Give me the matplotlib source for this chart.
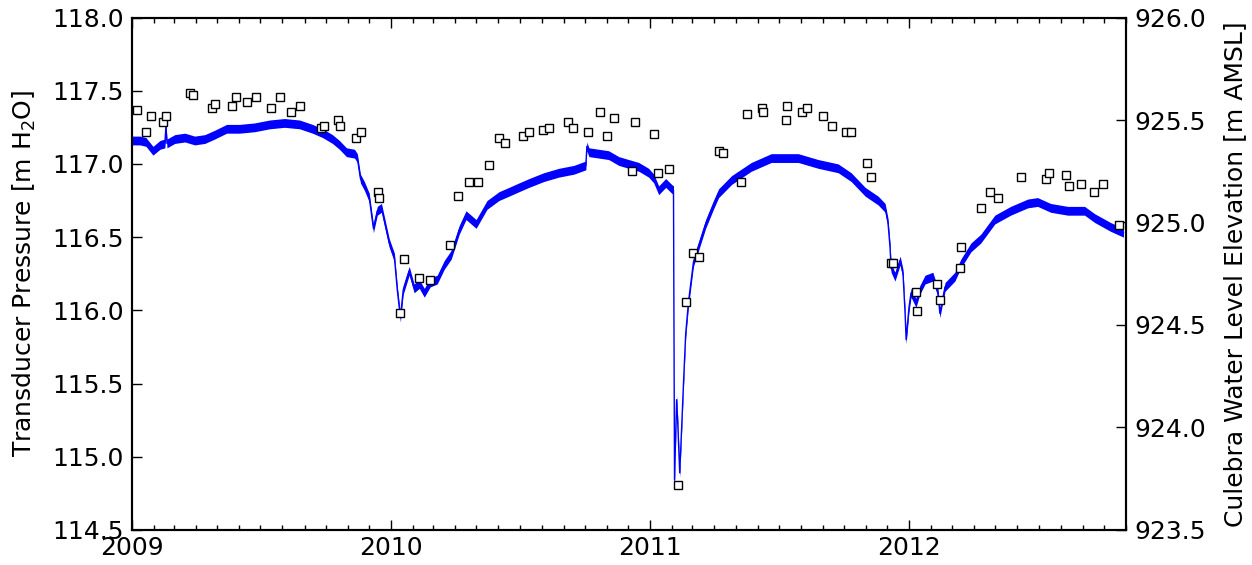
import numpy as np
import matplotlib
matplotlib.use("Agg")
import matplotlib.pyplot as plt
import matplotlib.dates as mdates
from matplotlib.ticker import FormatStrFormatter, MultipleLocator

# transducer record (decimal year, m H2O)
p_year = [2009.000, 2009.031, 2009.054, 2009.081, 2009.108, 2009.127, 2009.131, 2009.135,
          2009.165, 2009.204, 2009.242, 2009.281, 2009.319, 2009.365, 2009.415, 2009.473,
          2009.531, 2009.588, 2009.646, 2009.696, 2009.735, 2009.773, 2009.800, 2009.827,
          2009.858, 2009.869, 2009.881, 2009.896, 2009.915, 2009.931, 2009.946, 2009.962,
          2009.977, 2009.992, 2010.012, 2010.023, 2010.035, 2010.046, 2010.069, 2010.088,
          2010.108, 2010.127, 2010.150, 2010.177, 2010.204, 2010.231, 2010.262, 2010.288,
          2010.327, 2010.369, 2010.415, 2010.454, 2010.492, 2010.531, 2010.588, 2010.646,
          2010.704, 2010.750, 2010.754, 2010.762, 2010.800, 2010.838, 2010.877, 2010.915,
          2010.954, 2010.992, 2011.012, 2011.031, 2011.058, 2011.081, 2011.088, 2011.092,
          2011.100, 2011.104, 2011.112, 2011.119, 2011.127, 2011.135, 2011.146, 2011.165,
          2011.185, 2011.212, 2011.242, 2011.262, 2011.312, 2011.388, 2011.465, 2011.569,
          2011.646, 2011.723, 2011.773, 2011.827, 2011.877, 2011.904, 2011.915, 2011.923,
          2011.927, 2011.942, 2011.962, 2011.973, 2011.981, 2011.985, 2011.996, 2012.004,
          2012.023, 2012.038, 2012.058, 2012.088, 2012.108, 2012.115, 2012.135, 2012.173,
          2012.196, 2012.235, 2012.273, 2012.327, 2012.388, 2012.454, 2012.492, 2012.542,
          2012.608, 2012.673, 2012.712, 2012.773, 2012.823]
p_val = [117.16, 117.16, 117.15, 117.09, 117.13, 117.14, 117.26, 117.14,
         117.17, 117.18, 117.16, 117.17, 117.20, 117.24, 117.24, 117.25,
         117.27, 117.28, 117.27, 117.24, 117.21, 117.17, 117.13, 117.08,
         117.07, 117.04, 116.90, 116.85, 116.77, 116.56, 116.68, 116.70,
         116.58, 116.46, 116.36, 116.14, 115.95, 116.14, 116.27, 116.15,
         116.18, 116.12, 116.19, 116.21, 116.31, 116.38, 116.55, 116.65,
         116.59, 116.72, 116.78, 116.81, 116.84, 116.87, 116.91, 116.94,
         116.96, 116.99, 117.12, 117.08, 117.07, 117.06, 117.02, 117.00,
         116.98, 116.94, 116.90, 116.82, 116.87, 116.83, 116.82, 114.84,
         115.39, 115.25, 114.89, 115.18, 115.52, 115.84, 116.06, 116.33,
         116.44, 116.59, 116.72, 116.80, 116.89, 116.98, 117.04, 117.04,
         117.00, 116.97, 116.91, 116.81, 116.75, 116.70, 116.60, 116.43,
         116.29, 116.23, 116.34, 116.25, 115.98, 115.80, 116.02, 116.12,
         116.05, 116.14, 116.21, 116.23, 116.12, 115.98, 116.16, 116.23,
         116.32, 116.43, 116.49, 116.62, 116.68, 116.73, 116.74, 116.70,
         116.68, 116.68, 116.63, 116.57, 116.53]
p_spread = 0.03  # half-width of the hourly scatter

# manual water-level measurements (decimal year, m AMSL)
w_year = [2009.019, 2009.054, 2009.073, 2009.119, 2009.131, 2009.223, 2009.235, 2009.308,
          2009.319, 2009.385, 2009.400, 2009.442, 2009.477, 2009.538, 2009.569, 2009.615,
          2009.646, 2009.727, 2009.742, 2009.796, 2009.804, 2009.862, 2009.885, 2009.950,
          2009.954, 2010.035, 2010.050, 2010.108, 2010.150, 2010.227, 2010.258, 2010.300,
          2010.335, 2010.377, 2010.415, 2010.438, 2010.508, 2010.531, 2010.585, 2010.608,
          2010.681, 2010.700, 2010.758, 2010.804, 2010.831, 2010.858, 2010.927, 2010.938,
          2011.012, 2011.027, 2011.069, 2011.104, 2011.138, 2011.165, 2011.185, 2011.262,
          2011.277, 2011.350, 2011.373, 2011.431, 2011.435, 2011.523, 2011.527, 2011.585,
          2011.604, 2011.665, 2011.700, 2011.754, 2011.773, 2011.835, 2011.850, 2011.927,
          2011.935, 2012.023, 2012.027, 2012.104, 2012.115, 2012.192, 2012.196, 2012.273,
          2012.308, 2012.338, 2012.427, 2012.523, 2012.535, 2012.600, 2012.612, 2012.658,
          2012.708, 2012.746, 2012.804]
w_val = [925.55, 925.44, 925.52, 925.49, 925.52, 925.63, 925.62, 925.56,
         925.58, 925.57, 925.61, 925.59, 925.61, 925.56, 925.61, 925.54,
         925.57, 925.46, 925.47, 925.50, 925.47, 925.41, 925.44, 925.15,
         925.12, 924.56, 924.82, 924.73, 924.72, 924.89, 925.13, 925.20,
         925.20, 925.28, 925.41, 925.39, 925.42, 925.44, 925.45, 925.46,
         925.49, 925.46, 925.44, 925.54, 925.42, 925.51, 925.25, 925.49,
         925.43, 925.24, 925.26, 923.72, 924.61, 924.85, 924.83, 925.35,
         925.34, 925.20, 925.53, 925.56, 925.54, 925.50, 925.57, 925.54,
         925.56, 925.52, 925.47, 925.44, 925.44, 925.29, 925.22, 924.80,
         924.80, 924.66, 924.57, 924.70, 924.62, 924.78, 924.88, 925.07,
         925.15, 925.12, 925.22, 925.21, 925.24, 925.23, 925.18, 925.19,
         925.15, 925.19, 924.99]


def to_dates(years):
    days = (np.asarray(years) - 2009.0) * 365.25
    return np.datetime64("2009-01-01T00:00") + (days * 1440).astype("timedelta64[m]")


p_dates = to_dates(p_year)
w_dates = to_dates(w_year)
p_val = np.array(p_val)

plt.rcParams["font.family"] = "DejaVu Sans"
plt.rcParams["font.size"] = 18

fig = plt.figure(figsize=(12.52, 5.65), dpi=100)
ax = fig.add_axes([0.1054, 0.062, 0.794, 0.907])
ax2 = ax.twinx()

ax.fill_between(p_dates, p_val - p_spread, p_val + p_spread, color="#0000ff", lw=0)
ax.plot(p_dates, p_val, color="#0000ff", lw=1.0)

ax2.plot(w_dates, w_val, ls="none", marker="s", ms=6, mfc="white", mec="black", mew=1.0)

ax.set_xlim(np.datetime64("2009-01-01"), np.datetime64("2012-11-01"))
ax.set_ylim(114.5, 118.0)
ax2.set_ylim(923.5, 926.0)

ax.xaxis.set_major_locator(mdates.YearLocator())
ax.xaxis.set_major_formatter(mdates.DateFormatter("%Y"))
ax.xaxis.set_minor_locator(mdates.MonthLocator())
ax.yaxis.set_major_locator(MultipleLocator(0.5))
ax2.yaxis.set_major_locator(MultipleLocator(0.5))
ax.yaxis.set_major_formatter(FormatStrFormatter("%.1f"))
ax2.yaxis.set_major_formatter(FormatStrFormatter("%.1f"))

ax.tick_params(axis="x", which="major", direction="in", top=True, length=7, width=1, labelsize=18, pad=4)
ax.tick_params(axis="x", which="minor", direction="in", top=True, length=3.5, width=1)
ax.tick_params(axis="y", direction="in", left=True, right=False, length=7, width=1, labelsize=18, pad=6)
ax2.tick_params(axis="y", direction="in", length=7, width=1, labelsize=18, pad=6)

for a in (ax, ax2):
    for s in a.spines.values():
        s.set_linewidth(1.5)

ax.set_ylabel("Transducer Pressure [m H$_2$O]", fontsize=18, labelpad=10)
ax2.set_ylabel("Culebra Water Level Elevation [m AMSL]", fontsize=18, labelpad=12)

fig.savefig("out.png", dpi=100)
